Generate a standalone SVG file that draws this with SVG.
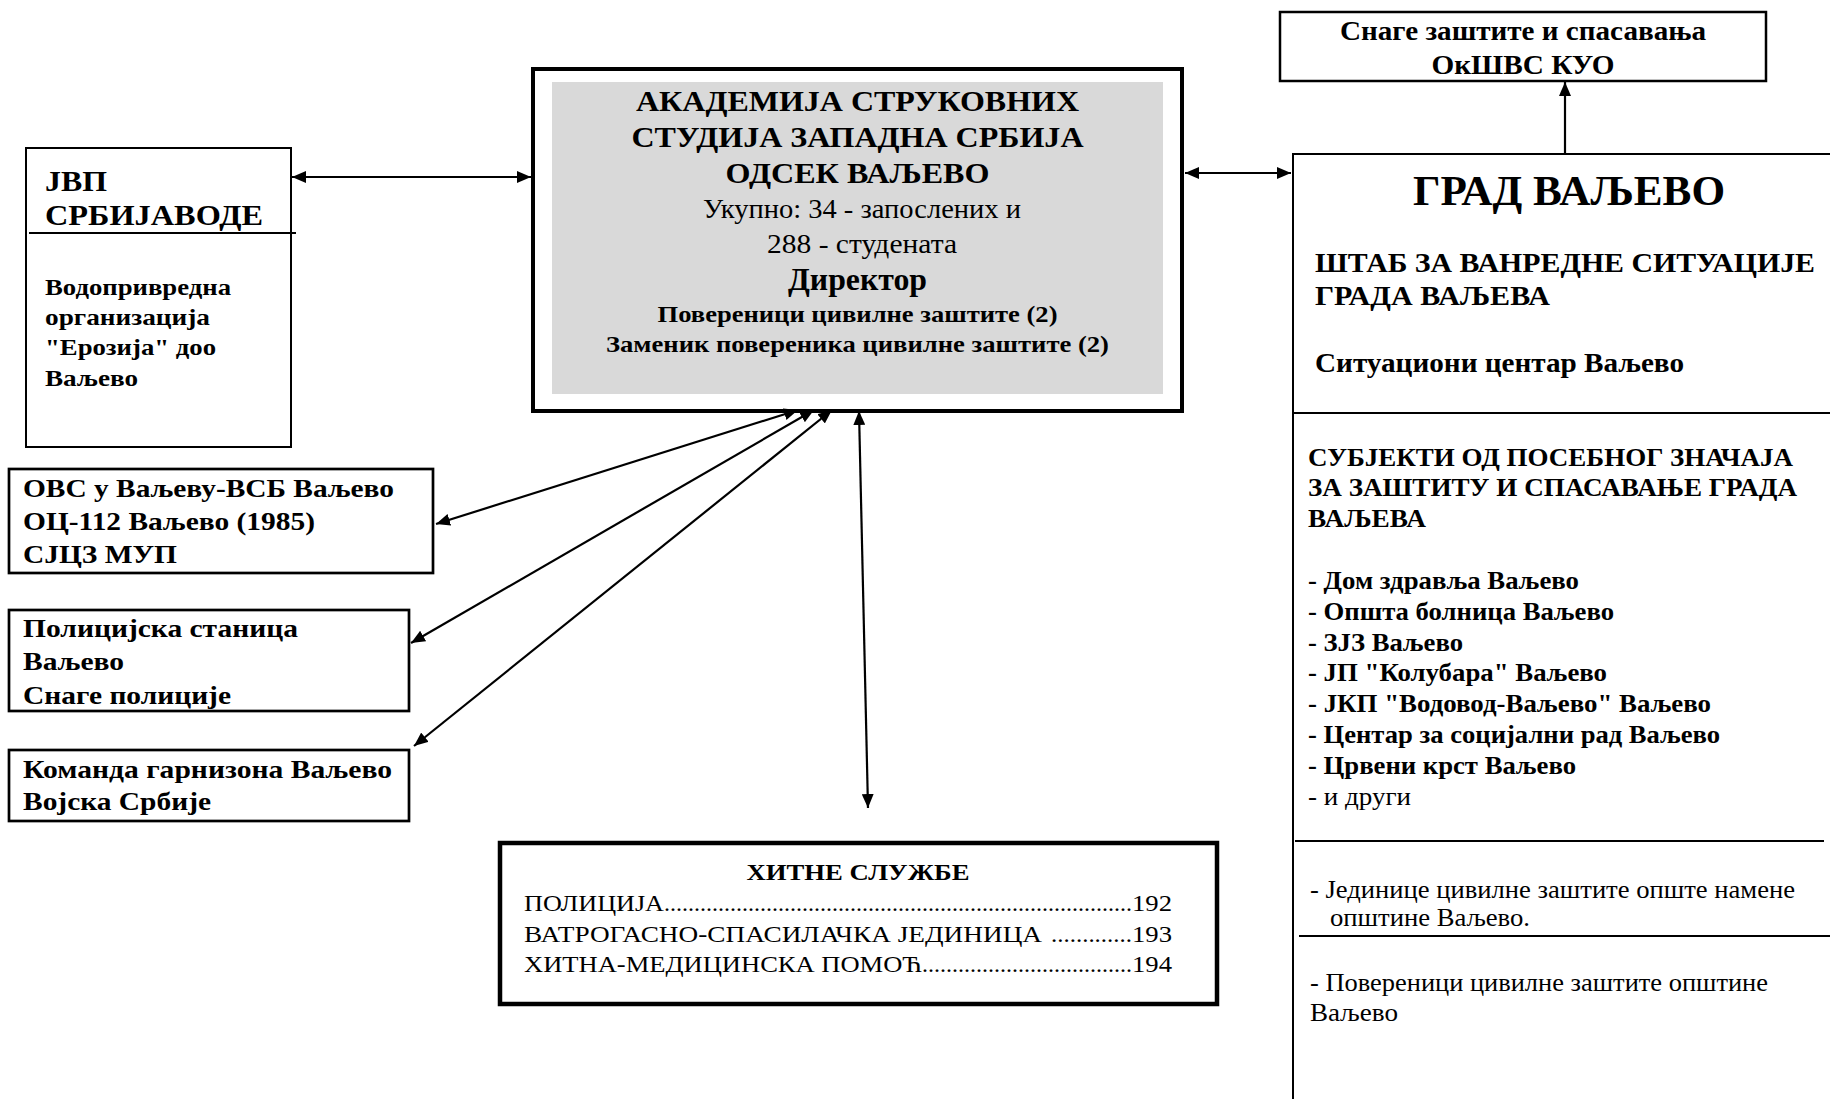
<svg xmlns="http://www.w3.org/2000/svg" width="1830" height="1099" viewBox="0 0 1830 1099">
<style>
text{font-family:"Liberation Serif","Times New Roman",serif;fill:#000}
.b{font-weight:bold}
.box{fill:#fff;stroke:#000}
.c{text-anchor:middle}
.con line{stroke:#000;stroke-width:2.2}
</style>
<defs>
<marker id="ah" markerUnits="userSpaceOnUse" markerWidth="15" markerHeight="12" refX="14" refY="6" orient="auto-start-reverse" viewBox="0 0 15 12">
<path d="M0,0 L14,6 L0,12 z" fill="#000"/>
</marker>
</defs>
<rect width="1830" height="1099" fill="#fff"/>

<g id="jvp">
<rect class="box" x="26" y="148" width="265" height="299" stroke-width="2"/>
<line x1="29" y1="233" x2="296" y2="233" stroke="#000" stroke-width="2"/>
<text class="b" x="45" y="191" font-size="30" textLength="62" lengthAdjust="spacingAndGlyphs">ЈВП</text>
<text class="b" x="45" y="225" font-size="30" textLength="218" lengthAdjust="spacingAndGlyphs">СРБИЈАВОДЕ</text>
<text class="b" x="45" y="295" font-size="24" textLength="186" lengthAdjust="spacingAndGlyphs">Водопривредна</text>
<text class="b" x="45" y="325" font-size="24" textLength="165" lengthAdjust="spacingAndGlyphs">организација</text>
<text class="b" x="45" y="355" font-size="24" textLength="171" lengthAdjust="spacingAndGlyphs">"Ерозија" доо</text>
<text class="b" x="45" y="386" font-size="24" textLength="93" lengthAdjust="spacingAndGlyphs">Ваљево</text>
</g>

<g id="akademija">
<rect x="533" y="69" width="649" height="342" fill="#fff" stroke="#000" stroke-width="4"/>
<rect x="552" y="82" width="611" height="312" fill="#d9d9d9"/>
<text class="b c" x="857.5" y="111" font-size="30" textLength="443" lengthAdjust="spacingAndGlyphs">АКАДЕМИЈА СТРУКОВНИХ</text>
<text class="b c" x="857.5" y="147" font-size="30" textLength="452" lengthAdjust="spacingAndGlyphs">СТУДИЈА ЗАПАДНА СРБИЈА</text>
<text class="b c" x="857.5" y="183" font-size="30" textLength="264" lengthAdjust="spacingAndGlyphs">ОДСЕК ВАЉЕВО</text>
<text class="c" x="862" y="218" font-size="28" textLength="318" lengthAdjust="spacingAndGlyphs">Укупно: 34 - запослених и</text>
<text class="c" x="862" y="253" font-size="28" textLength="190" lengthAdjust="spacingAndGlyphs">288 - студената</text>
<text class="b c" x="857.5" y="290" font-size="32" textLength="139" lengthAdjust="spacingAndGlyphs">Директор</text>
<text class="b c" x="857.5" y="322" font-size="24" textLength="400" lengthAdjust="spacingAndGlyphs">Повереници цивилне заштите (2)</text>
<text class="b c" x="857.5" y="352" font-size="24" textLength="503" lengthAdjust="spacingAndGlyphs">Заменик повереника цивилне заштите (2)</text>
</g>

<g id="snage">
<rect class="box" x="1280" y="12" width="486" height="69" stroke-width="2.5"/>
<text class="b c" x="1523" y="40" font-size="28" textLength="366" lengthAdjust="spacingAndGlyphs">Снаге заштите и спасавања</text>
<text class="b c" x="1523" y="74" font-size="28" textLength="183" lengthAdjust="spacingAndGlyphs">ОкШВС КУО</text>
</g>

<g id="grad">
<rect class="box" x="1293" y="154" width="600" height="1000" stroke-width="2"/>
<text class="b" x="1413" y="205" font-size="42" textLength="312" lengthAdjust="spacingAndGlyphs">ГРАД ВАЉЕВО</text>
<text class="b" x="1315" y="272" font-size="27" textLength="500" lengthAdjust="spacingAndGlyphs">ШТАБ ЗА ВАНРЕДНЕ СИТУАЦИЈЕ</text>
<text class="b" x="1315" y="305" font-size="27" textLength="235" lengthAdjust="spacingAndGlyphs">ГРАДА ВАЉЕВА</text>
<text class="b" x="1315" y="372" font-size="27" textLength="369" lengthAdjust="spacingAndGlyphs">Ситуациони центар Ваљево</text>
<line x1="1293" y1="413" x2="1830" y2="413" stroke="#000" stroke-width="2.2"/>
<text class="b" x="1308" y="466" font-size="26" textLength="485" lengthAdjust="spacingAndGlyphs">СУБЈЕКТИ ОД ПОСЕБНОГ ЗНАЧАЈА</text>
<text class="b" x="1308" y="496" font-size="26" textLength="489" lengthAdjust="spacingAndGlyphs">ЗА ЗАШТИТУ И СПАСАВАЊЕ ГРАДА</text>
<text class="b" x="1308" y="527" font-size="26" textLength="118" lengthAdjust="spacingAndGlyphs">ВАЉЕВА</text>
<text class="b" x="1308" y="589" font-size="26" textLength="271" lengthAdjust="spacingAndGlyphs">- Дом здравља Ваљево</text>
<text class="b" x="1308" y="620" font-size="26" textLength="306" lengthAdjust="spacingAndGlyphs">- Општа болница Ваљево</text>
<text class="b" x="1308" y="651" font-size="26" textLength="155" lengthAdjust="spacingAndGlyphs">- ЗЈЗ Ваљево</text>
<text class="b" x="1308" y="681" font-size="26" textLength="299" lengthAdjust="spacingAndGlyphs">- ЈП "Колубара" Ваљево</text>
<text class="b" x="1308" y="712" font-size="26" textLength="403" lengthAdjust="spacingAndGlyphs">- ЈКП "Водовод-Ваљево" Ваљево</text>
<text class="b" x="1308" y="743" font-size="26" textLength="412" lengthAdjust="spacingAndGlyphs">- Центар за социјални рад Ваљево</text>
<text class="b" x="1308" y="774" font-size="26" textLength="268" lengthAdjust="spacingAndGlyphs">- Црвени крст Ваљево</text>
<text x="1308" y="805" font-size="26" textLength="103" lengthAdjust="spacingAndGlyphs">- и други</text>
<line x1="1295" y1="841" x2="1824" y2="841" stroke="#000" stroke-width="2.2"/>
<text x="1310" y="898" font-size="26" textLength="485" lengthAdjust="spacingAndGlyphs">- Јединице цивилне заштите опште намене</text>
<text x="1330" y="926" font-size="26" textLength="200" lengthAdjust="spacingAndGlyphs">општине Ваљево.</text>
<line x1="1299" y1="936" x2="1830" y2="936" stroke="#000" stroke-width="2.2"/>
<text x="1310" y="991" font-size="26" textLength="458" lengthAdjust="spacingAndGlyphs">- Повереници цивилне заштите општине</text>
<text x="1310" y="1021" font-size="26" textLength="88" lengthAdjust="spacingAndGlyphs">Ваљево</text>
</g>

<g id="ovs">
<rect class="box" x="9" y="469" width="424" height="104" stroke-width="2.7"/>
<text class="b" x="23" y="497" font-size="26" textLength="371" lengthAdjust="spacingAndGlyphs">ОВС у Ваљеву-ВСБ Ваљево</text>
<text class="b" x="23" y="530" font-size="26" textLength="292" lengthAdjust="spacingAndGlyphs">ОЦ-112 Ваљево (1985)</text>
<text class="b" x="23" y="563" font-size="26" textLength="154" lengthAdjust="spacingAndGlyphs">СЈЦЗ МУП</text>
</g>

<g id="policija">
<rect class="box" x="9" y="610" width="400" height="101" stroke-width="2.7"/>
<text class="b" x="23" y="637" font-size="26" textLength="275" lengthAdjust="spacingAndGlyphs">Полицијска станица</text>
<text class="b" x="23" y="670" font-size="26" textLength="101" lengthAdjust="spacingAndGlyphs">Ваљево</text>
<text class="b" x="23" y="704" font-size="26" textLength="208" lengthAdjust="spacingAndGlyphs">Снаге полиције</text>
</g>

<g id="komanda">
<rect class="box" x="9" y="750" width="400" height="71" stroke-width="2.7"/>
<text class="b" x="23" y="778" font-size="26" textLength="369" lengthAdjust="spacingAndGlyphs">Команда гарнизона Ваљево</text>
<text class="b" x="23" y="810" font-size="26" textLength="188" lengthAdjust="spacingAndGlyphs">Војска Србије</text>
</g>

<g id="hitne">
<rect class="box" x="500" y="843" width="717" height="161" stroke-width="4.5"/>
<text class="b c" x="858" y="880" font-size="23" textLength="223" lengthAdjust="spacingAndGlyphs">ХИТНЕ СЛУЖБЕ</text>
<text x="524" y="911" font-size="24" textLength="140" lengthAdjust="spacingAndGlyphs">ПОЛИЦИЈА</text>
<text x="664" y="911" font-size="24" textLength="468" lengthAdjust="spacingAndGlyphs">..............................................................................</text>
<text x="1132" y="911" font-size="24" textLength="40" lengthAdjust="spacingAndGlyphs">192</text>
<text x="524" y="942" font-size="24" textLength="518" lengthAdjust="spacingAndGlyphs">ВАТРОГАСНО-СПАСИЛАЧКА ЈЕДИНИЦА</text>
<text x="1051" y="942" font-size="24" textLength="81" lengthAdjust="spacingAndGlyphs">.............</text>
<text x="1132" y="942" font-size="24" textLength="40" lengthAdjust="spacingAndGlyphs">193</text>
<text x="524" y="972" font-size="24" textLength="398" lengthAdjust="spacingAndGlyphs">ХИТНА-МЕДИЦИНСКА ПОМОЋ</text>
<text x="922" y="972" font-size="24" textLength="210" lengthAdjust="spacingAndGlyphs">...................................</text>
<text x="1132" y="972" font-size="24" textLength="40" lengthAdjust="spacingAndGlyphs">194</text>
</g>

<g id="connectors" class="con">
<line x1="292" y1="177" x2="531" y2="177" marker-start="url(#ah)" marker-end="url(#ah)"/>
<line x1="1185" y1="173" x2="1291" y2="173" marker-start="url(#ah)" marker-end="url(#ah)"/>
<line x1="1565" y1="153" x2="1565" y2="82" marker-end="url(#ah)"/>
<line x1="798" y1="410" x2="436" y2="524" marker-start="url(#ah)" marker-end="url(#ah)"/>
<line x1="814" y1="410" x2="411" y2="643" marker-start="url(#ah)" marker-end="url(#ah)"/>
<line x1="832" y1="410" x2="414" y2="746" marker-start="url(#ah)" marker-end="url(#ah)"/>
<line x1="859" y1="411" x2="868" y2="808" marker-start="url(#ah)" marker-end="url(#ah)"/>
</g>
</svg>
